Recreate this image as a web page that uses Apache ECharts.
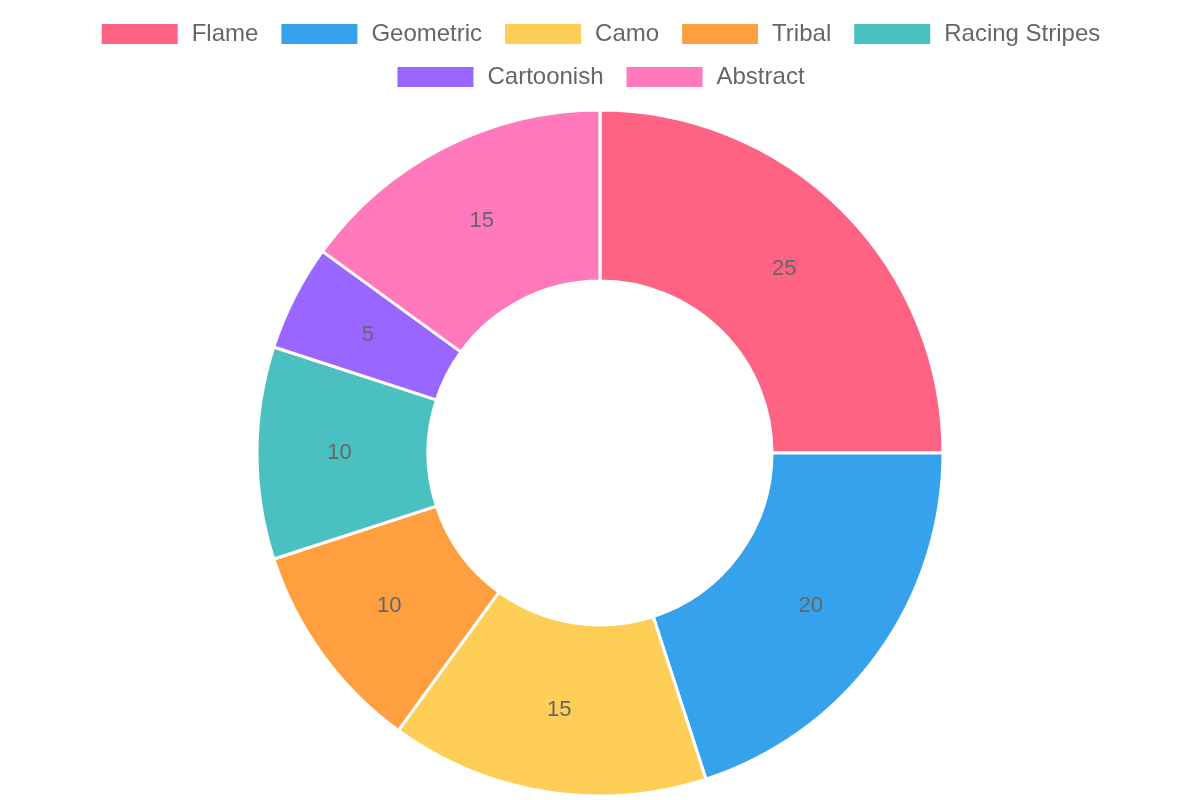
<!DOCTYPE html>
<html>
<head>
<meta charset="utf-8">
<script src="https://cdn.jsdelivr.net/npm/echarts@6/dist/echarts.min.js"></script>
<style>html,body{margin:0;padding:0;background:#fff}#c{width:1200px;height:800px}</style>
</head>
<body>
<div id="c"></div>
<script>
const categories = ['Flame', 'Geometric', 'Camo', 'Tribal', 'Racing Stripes', 'Cartoonish', 'Abstract'];
const values = [25, 20, 15, 10, 10, 5, 15];
const colors = ['#FF6384', '#36A2EB', '#FFCE56', '#FF9F40', '#4BC0C0', '#9966FF', '#FF79BC'];
const legendRow1 = categories.slice(0, 5);
const legendRow2 = categories.slice(5);

const legendBase = {
  left: 'center',
  orient: 'horizontal',
  itemWidth: 78,
  itemHeight: 22,
  itemGap: 21,
  icon: 'rect',
  textStyle: {fontSize: 24, color: '#666', fontFamily: 'Liberation Sans, Arial, sans-serif', padding: [0, 0, 0, 8]}
};

const chart = echarts.init(document.getElementById('c'), null, {renderer: 'canvas'});
chart.setOption({
  animation: false,
  color: colors,
  legend: [
    Object.assign({}, legendBase, {top: 17, data: legendRow1}),
    Object.assign({}, legendBase, {top: 60, data: legendRow2})
  ],
  series: [{
    type: 'pie',
    center: [600, 453],
    radius: [172, 343],
    startAngle: 90,
    clockwise: true,
    itemStyle: {borderColor: '#fff', borderWidth: 3},
    label: {
      show: true,
      position: 'inside',
      formatter: '{c}',
      fontSize: 22,
      color: '#666',
      fontFamily: 'Liberation Sans, Arial, sans-serif'
    },
    labelLine: {show: false},
    emphasis: {disabled: true},
    data: categories.map((n, i) => ({name: n, value: values[i]}))
  }]
});
</script>
</body>
</html>
